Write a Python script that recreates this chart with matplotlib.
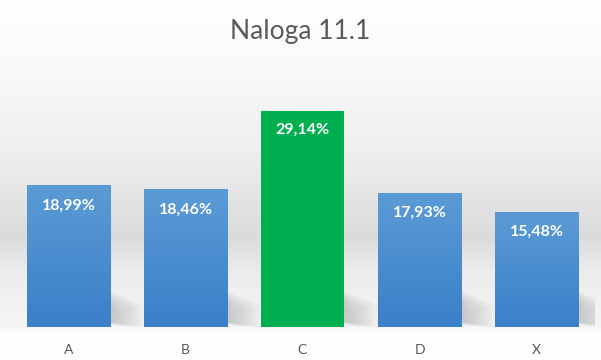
import numpy as np
import matplotlib.pyplot as plt
from matplotlib.colors import LinearSegmentedColormap, to_rgb
from matplotlib.patches import Polygon

categories = ['A', 'B', 'C', 'D', 'X']
values = [18.99, 18.46, 29.14, 17.93, 15.48]
labels = ['18,99%', '18,46%', '29,14%', '17,93%', '15,48%']
highlight = 'C'

plt.rcParams['font.family'] = ['Lato', 'DejaVu Sans']

fig = plt.figure(figsize=(6.01, 3.6), dpi=100)

# background gradient over the whole figure (white -> gray band -> white)
bg = fig.add_axes([0, 0, 1, 1], zorder=0)
stops = [(0.0, '#ffffff'), (0.17, '#fafafa'), (0.42, '#efefef'), (0.66, '#dbdbdb'),
         (0.75, '#ebebeb'), (0.80, '#efefef'), (0.91, '#f6f6f6'), (0.92, '#fcfcfc'), (1.0, '#ffffff')]
bg_cmap = LinearSegmentedColormap.from_list('bg', stops)
bg.imshow(np.linspace(0, 1, 360).reshape(-1, 1), aspect='auto', cmap=bg_cmap,
          extent=[0, 1, 0, 1], origin='upper')
bg.axis('off')

ax = fig.add_axes([10 / 601, 33 / 360, 585 / 601, 260 / 360], zorder=1)
ax.patch.set_alpha(0)
ax.set_xlim(-0.5, len(categories) - 0.5)
ax.set_ylim(0, 35)

width = 0.71
x = np.arange(len(categories))

# bar shadows (soft diagonal fade to the right of each bar)
for i, v in enumerate(values):
    r = x[i] + width / 2
    for k in range(12):
        f = k / 12
        shade = Polygon([(r, 0.6), (r, 4.8 - 1.5 * f), (r + 0.29 * (1 - f), 3.0 - 1.2 * f),
                         (r + 0.29 * (1 - f), 0.0)],
                        closed=True, facecolor='#a0a0a0', edgecolor='none',
                        alpha=0.05, zorder=1)
        ax.add_patch(shade)

# gradient blue bars, solid green highlight
blue_cmap = LinearSegmentedColormap.from_list('blue', [to_rgb('#3a80c9'), to_rgb('#5b9bd5')])
for i, v in enumerate(values):
    x0, x1 = x[i] - width / 2, x[i] + width / 2
    if categories[i] == highlight:
        ax.bar(x[i], v, width=width, color='#00b050', zorder=3)
    else:
        grad = np.linspace(0, 1, 200).reshape(-1, 1)
        ax.imshow(grad, aspect='auto', cmap=blue_cmap, origin='lower',
                  extent=[x0, x1, 0, v], zorder=3)
    ax.annotate(labels[i], xy=(x[i], v), xytext=(0, -14), textcoords='offset points',
                ha='center', va='center', color='white', fontsize=11.5,
                fontweight='bold', zorder=4)

ax.set_xlim(-0.5, len(categories) - 0.5)
ax.set_ylim(0, 35)
ax.set_xticks(x)
ax.set_xticklabels(categories, color='#595959', fontsize=10)
ax.tick_params(axis='x', length=0, pad=12)
ax.set_yticks([])
for s in ax.spines.values():
    s.set_visible(False)

fig.text(0.5, 1 - 31 / 360, 'Naloga 11.1', ha='center', va='center',
         fontsize=19, color='#595959')

fig.savefig('out.png', dpi=100)
